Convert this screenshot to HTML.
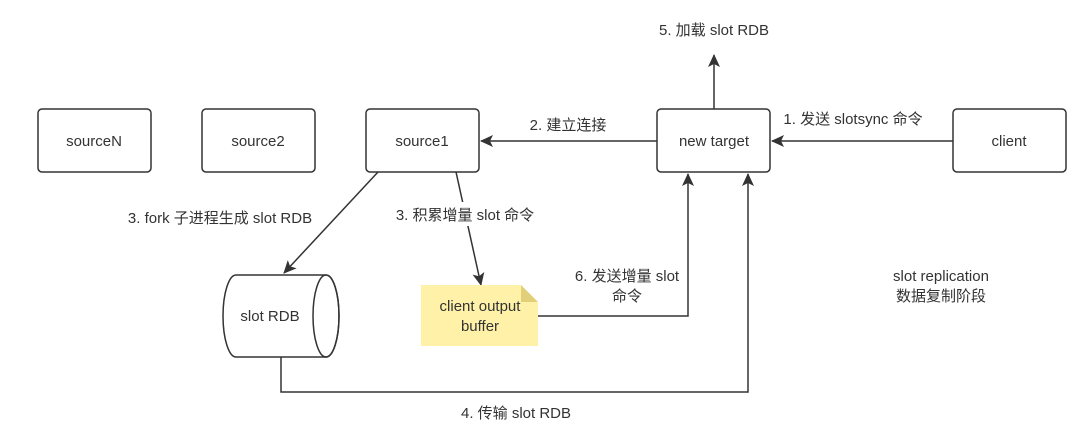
<!DOCTYPE html>
<html><head><meta charset="utf-8"><style>
body{margin:0;background:#fff;width:1080px;height:428px;overflow:hidden}
text{font-family:"Liberation Sans","Noto Sans CJK SC",sans-serif;font-size:15px;fill:#333}
</style></head><body>
<svg width="1080" height="428" viewBox="0 0 1080 428">
<defs><marker id="a" markerWidth="13" markerHeight="12" refX="12" refY="6" orient="auto" markerUnits="userSpaceOnUse"><path d="M0,0 L13,6 L0,12 L3,6Z" fill="#333"/></marker></defs>
<g fill="#fff" stroke="#333" stroke-width="1.5">
<rect x="38" y="109" width="113" height="63" rx="4"/>
<rect x="202" y="109" width="113" height="63" rx="4"/>
<rect x="366" y="109" width="113" height="63" rx="4"/>
<rect x="657" y="109" width="113" height="63" rx="4"/>
<rect x="953" y="109" width="113" height="63" rx="4"/>
</g>
<g text-anchor="middle">
<text x="94" y="146">sourceN</text>
<text x="258" y="146">source2</text>
<text x="422" y="146">source1</text>
<text x="714" y="146">new target</text>
<text x="1009" y="146">client</text>
</g>
<g stroke="#333" stroke-width="1.5" fill="none">
<line x1="714" y1="109" x2="714" y2="55" marker-end="url(#a)"/>
<line x1="657" y1="141" x2="481" y2="141" marker-end="url(#a)"/>
<line x1="953" y1="141" x2="772" y2="141" marker-end="url(#a)"/>
<line x1="378" y1="172" x2="284" y2="273" marker-end="url(#a)"/>
<line x1="456" y1="172" x2="481" y2="285" marker-end="url(#a)"/>
<polyline points="538,316 688,316 688,174" marker-end="url(#a)"/>
<polyline points="281,357 281,392 748,392 748,174" marker-end="url(#a)"/>
</g>
<rect x="120" y="205" width="200" height="24" fill="#fff"/>
<rect x="390" y="202" width="150" height="24" fill="#fff"/>
<path d="M236,275 L326,275 A13,41 0 0 1 326,357 L236,357 A13,41 0 0 1 236,275Z" fill="#fff" stroke="#333" stroke-width="1.5"/>
<ellipse cx="326" cy="316" rx="13" ry="41" fill="none" stroke="#333" stroke-width="1.5"/>
<text x="270" y="321" text-anchor="middle">slot RDB</text>
<path d="M421,285 L521,285 L538,302 L538,346 L421,346Z" fill="#fff2a8"/>
<path d="M521,285 L538,302 L521,302Z" fill="#e2cf7a"/>
<g text-anchor="middle">
<text x="480" y="311">client output</text>
<text x="480" y="331">buffer</text>
<text x="714" y="35">5. 加载 slot RDB</text>
<text x="568" y="130">2. 建立连接</text>
<text x="853" y="124">1. 发送 slotsync 命令</text>
<text x="220" y="223">3. fork 子进程生成 slot RDB</text>
<text x="465" y="220">3. 积累增量 slot 命令</text>
<text x="627" y="281">6. 发送增量 slot</text>
<text x="627" y="301">命令</text>
<text x="516" y="418">4. 传输 slot RDB</text>
<text x="941" y="281">slot replication</text>
<text x="941" y="301">数据复制阶段</text>
</g>
</svg>
</body></html>
